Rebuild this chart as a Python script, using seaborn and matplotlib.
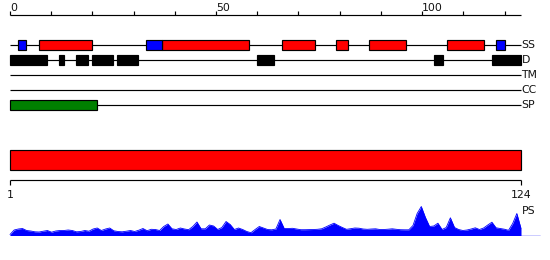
import numpy as np
import pandas as pd
import matplotlib
matplotlib.use("Agg")
import matplotlib.pyplot as plt
import seaborn as sns

# ---------------- data ----------------
seq_len = 124
track_names = ["SS", "D", "TM", "CC", "SP"]

helix_start = [7, 37, 66, 79, 87, 106]
helix_end = [20, 58, 74, 82, 96, 115]
strand_start = [2, 33, 118]
strand_end = [4, 37, 120]
disorder_start = [0, 12, 16, 20, 26, 60, 103, 117]
disorder_end = [9, 13, 19, 25, 31, 64, 105, 124]
tm_start, tm_end = [], []
cc_start, cc_end = [], []
sp_start = [0]
sp_end = [21]
domain_start = [0]
domain_end = [124]

top_ticks = list(range(0, 121, 10))
top_tick_labels = {0: "0", 50: "50", 100: "100"}
bottom_labels = ["1", "124"]

ps_values = [1, 5.5, 6.5, 7, 5, 4.5, 3.7, 3.5, 4.3, 5,
             3.3, 4.5, 5, 5, 5.5, 5, 3.7, 4, 5, 4.3,
             6.5, 7.5, 5, 6.5, 7.5, 4.7, 4, 3.7, 4.3, 5,
             4, 5.3, 7, 4.8, 6.2, 6, 5, 9, 11.5, 6.7,
             6, 7.5, 6.5, 5.8, 9, 13.5, 6.7, 6.7, 10.5, 9.5,
             6, 8, 14, 11, 6, 7.5, 6, 4, 2.8, 6,
             9, 7.5, 6, 5.7, 6.5, 16, 7, 7, 7.2, 6.5,
             5.8, 5.8, 5.9, 6, 6.2, 6.7, 8.5, 10.5, 12.3, 10,
             8, 6.2, 6.8, 7.5, 7.3, 6.5, 6.2, 6.5, 6.7, 6,
             6, 6.3, 6.7, 6.2, 5.8, 5.7, 5.7, 10, 22, 29,
             18, 9, 9.5, 12.3, 6, 8, 17.7, 8, 6, 5,
             5.5, 6.5, 7.7, 6, 7.5, 10.5, 13.3, 7.7, 7, 6.3,
             5.2, 12, 22, 7]
residues = np.arange(1, len(ps_values) + 1)

# ---------------- style ----------------
sns.set_theme(style="white")
plt.rcParams["font.family"] = ["DejaVu Sans"]
plt.rcParams["font.size"] = 8

RED = "#ff0000"
BLUE = "#0000ff"
GREEN = "#008000"
BLACK = "#000000"
TXT = "#111111"
FS = 7.8
W, H = 550, 260
fig = plt.figure(figsize=(W / 100, H / 100), dpi=100)

# top tracks: x in sequence units (0 -> 10px, 124 -> 521px), y in layout px
s1 = 511 / seq_len
ax = fig.add_axes([0, 0, 1, 1])
ax.set_xlim(-10 / s1, (W - 10) / s1)
ax.set_ylim(H, 0)
ax.axis("off")
ax.patch.set_alpha(0)

lw = 0.85
# ruler
ax.hlines(14.7, 0, seq_len, color=BLACK, lw=lw)
ax.vlines(top_ticks, 10.7, 14.7, color=BLACK, lw=lw)
for t, lab in top_tick_labels.items():
    ax.text(t, 10.9, lab, ha="left", va="baseline", fontsize=FS, color=TXT)

track_y = {"SS": 45, "D": 60, "TM": 75, "CC": 90, "SP": 105}
for name in track_names:
    y = track_y[name]
    ax.hlines(y, 0, seq_len, color=BLACK, lw=lw, zorder=1)
    ax.text(seq_len + 0.1, y + 0.3, name, ha="left", va="center", fontsize=FS, color=TXT)


def boxes(starts, ends, y, h, color):
    if not starts:
        return
    s = np.array(starts, float)
    e = np.array(ends, float)
    ax.barh([y] * len(s), e - s, left=s, height=h, color=color,
            edgecolor=BLACK, linewidth=lw, zorder=2)


boxes(helix_start, helix_end, track_y["SS"], 10, RED)
boxes(strand_start, strand_end, track_y["SS"], 10, BLUE)
boxes(disorder_start, disorder_end, track_y["D"], 10.5, BLACK)
boxes(tm_start, tm_end, track_y["TM"], 10, BLACK)
boxes(cc_start, cc_end, track_y["CC"], 10, BLACK)
boxes(sp_start, sp_end, track_y["SP"], 10, GREEN)
boxes(domain_start, domain_end, 160.3, 20, RED)

# bottom ruler: residue 1 -> 10px, 124 -> 521px
s2 = 511 / (seq_len - 1)
ax2 = fig.add_axes([0, 0, 1, 1])
ax2.set_xlim(1 - 10 / s2, 1 + (W - 10) / s2)
ax2.set_ylim(H, 0)
ax2.axis("off")
ax2.patch.set_alpha(0)
ax2.hlines(180.3, 1, seq_len, color=BLACK, lw=lw)
ax2.vlines([1, seq_len], 180.3, 184.5, color=BLACK, lw=lw)
ax2.text(1, 195.5, bottom_labels[0], ha="center", va="center", fontsize=FS, color=TXT)
ax2.text(seq_len, 195.5, bottom_labels[1], ha="center", va="center", fontsize=FS, color=TXT)
ax2.text(seq_len + 0.2, 211, "PS", ha="left", va="center", fontsize=FS, color=TXT)

# profile
base_px = 235.5
axp = fig.add_axes([0, (H - base_px) / H, 1, 40 / H])
axp.set_xlim(1 - 10 / s2, 1 + (W - 10) / s2)
axp.set_ylim(0, 40)
axp.axis("off")
axp.patch.set_alpha(0)
df = pd.DataFrame({"residue": residues, "ps": ps_values})
sns.lineplot(data=df, x="residue", y="ps", color=BLUE, lw=0.6, ax=axp)
axp.fill_between(df["residue"], 0, df["ps"], color=BLUE, lw=0)
axp.axhline(0, xmin=10 / W, xmax=540 / W, color=BLUE, lw=1.0)

fig.savefig("out.png", dpi=100)
